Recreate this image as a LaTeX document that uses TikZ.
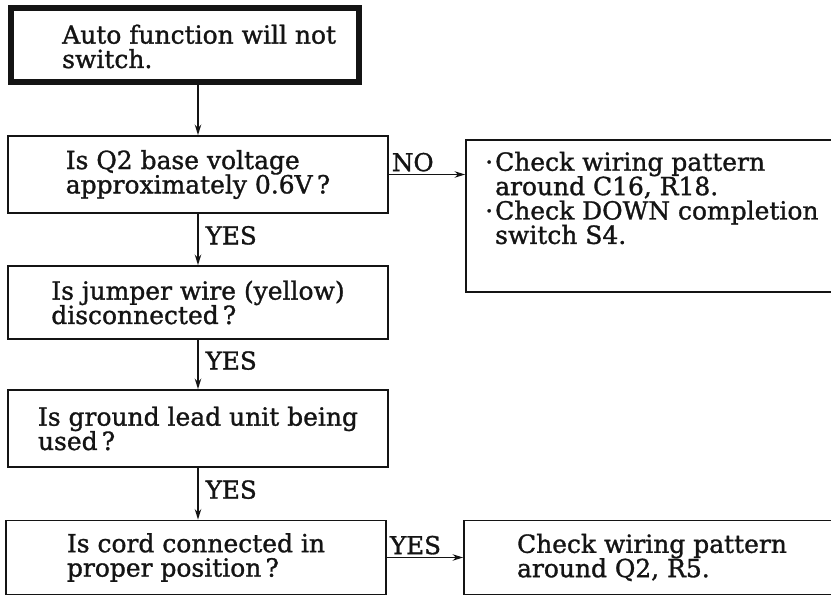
\documentclass[tikz,border=0pt]{standalone}
\usepackage{fontspec}
\setmainfont{DejaVu Serif}[FakeBold=1.2]
\usetikzlibrary{arrows.meta,positioning,calc}
\definecolor{inkgray}{gray}{0.08}
\newcommand{\unitpx}{0.03cm}
\newcommand{\chartfont}{\fontsize{21.3}{20.8}\selectfont\lineskiplimit=-30pt\relax}
\newcommand{\dotitem}{\makebox[8.5pt][l]{·}}

\begin{document}
\begin{tikzpicture}[x=\unitpx, y=-\unitpx, font=\chartfont, text=inkgray,
    box/.style={draw=inkgray, line width=1.5pt, minimum width=380*\unitpx, align=left, inner sep=0pt},
    startbox/.style={draw=inkgray, line width=5pt},
    lbl/.style={font=\fontsize{21}{21}\selectfont, inner sep=2pt},
    arr/.style={draw=inkgray, line width=1.2pt, -{Stealth[length=9pt, width=5.5pt]}}]
    \useasboundingbox (0,0) rectangle (831,596);
    \fill[white] (0,0) rectangle (831,596);
    \clip (0,0) rectangle (831,596);
    % start box with heavy frame
    \node[startbox, minimum width=348*\unitpx, minimum height=74*\unitpx] (start) at (185,45) {};
    \node[anchor=west, align=left, inner sep=0pt] (starttxt) at (62,46.5) {Auto function will not\\switch.};
    % questions
    \node[box, minimum height=77*\unitpx] (q1) at (198,174.5) {Is Q2 base voltage\\approximately 0.6V\,?};
    \node[box, minimum height=73*\unitpx] (q2) at (198,302.5) {Is jumper wire (yellow)\\disconnected\,?};
    \node[box, minimum height=77*\unitpx] (q3) at (198,428.5) {Is ground lead unit being\\used\,?};
    \node[box, minimum height=74*\unitpx] (q4) at (196,557.5) {Is cord connected in\\proper position\,?};
    % remedies (run off the right edge)
    \node[box, minimum width=384*\unitpx, minimum height=152*\unitpx] (fix1) at (658,216) {};
    \node[anchor=west, align=left, inner sep=0pt] (fix1txt) at (485,198)
        {\dotitem Check wiring pattern\\\hspace*{8.5pt}around C16, R18.\\\dotitem Check DOWN completion\\\hspace*{8.5pt}switch S4.};
    \node[box, minimum width=376*\unitpx, minimum height=74*\unitpx] (fix2) at (652,557.5) {Check wiring pattern\\around Q2, R5.};
    % connectors
    \draw[arr] (start.south -| q1.north) -- (q1.north);
    \foreach \a/\b in {q1/q2, q2/q3, q3/q4}
        \draw[arr] (\a.south) -- node[lbl, right=4pt, pos=0.42] {YES} (\a.south |- \b.north);
    \draw[arr] (q1.east) node[lbl, anchor=south west] {NO} -- (q1.east -| fix1.west);
    \draw[arr] (q4.east) node[lbl, anchor=south west] {YES} -- (q4.east -| fix2.west);
\end{tikzpicture}
\end{document}
